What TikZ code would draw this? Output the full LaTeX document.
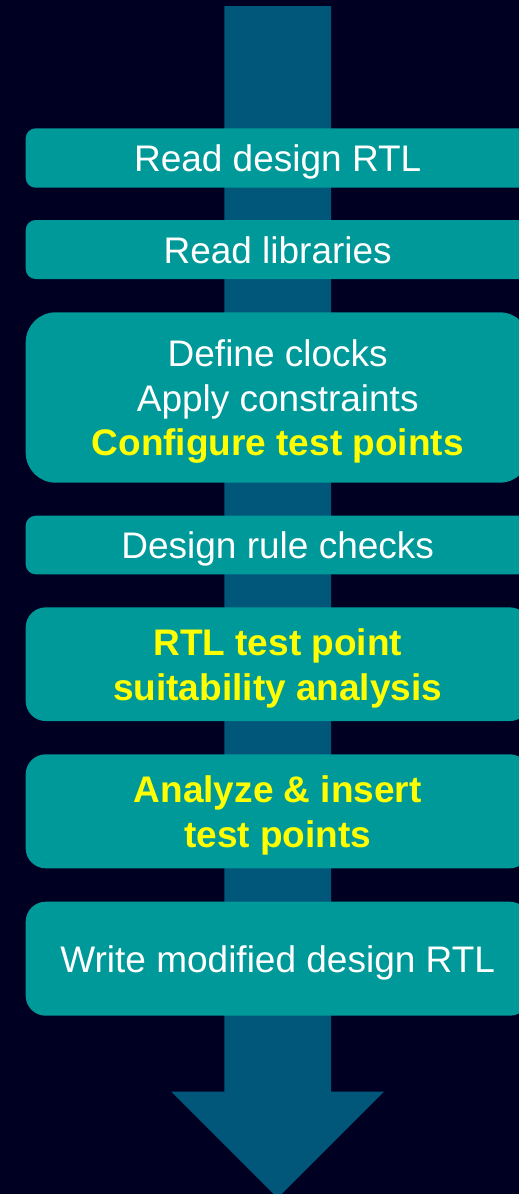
\documentclass[tikz,border=0pt]{standalone}
\usepackage{fontspec}
\setmainfont{Liberation Sans}
\usetikzlibrary{calc}
\definecolor{bgnavy}{HTML}{000022}
\definecolor{teal}{HTML}{009999}
\definecolor{shaft}{HTML}{00577A}
\definecolor{hiyellow}{HTML}{FFFF00}
\tikzset{
  stepbox/.style={fill=teal, draw=none, minimum width=504pt, inner sep=0pt},
  steptext/.style={anchor=base, inner sep=0pt, text=white, align=center,
    font=\fontsize{37}{44.4}\selectfont}
}
\newcommand{\hl}[1]{\textcolor{hiyellow}{\bfseries #1}}
\begin{document}
\begin{tikzpicture}[x=1pt,y=-1pt]
\useasboundingbox (0,0) rectangle (519,1194);
\clip (0,0) rectangle (519,1194);
\fill[bgnavy] (0,0) rectangle (519,1194);
% big arrow
\fill[shaft] (224.3,6) -- (331,6) -- (331,1091.7) -- (384,1091.7) -- (277.7,1198)
  -- (171.3,1091.7) -- (224.3,1091.7) -- cycle;
\node[stepbox, minimum height=59.4pt, rounded corners=10pt] (b1) at (277.7,158) {};
\node[stepbox, minimum height=59pt, rounded corners=10pt] (b2) at (277.7,249.5) {};
\node[stepbox, minimum height=170.4pt, rounded corners=30pt] (b3) at (277.7,397.5) {};
\node[stepbox, minimum height=58.6pt, rounded corners=10pt] (b4) at (277.7,545) {};
\node[stepbox, minimum height=113.7pt, rounded corners=20pt] (b5) at (277.7,664.2) {};
\node[stepbox, minimum height=114pt, rounded corners=20pt] (b6) at (277.7,811.3) {};
\node[stepbox, minimum height=114pt, rounded corners=20pt] (b7) at (277.7,958.7) {};
% texts (positioned by last baseline)
\node[steptext] (t1) at ($(b1.center)+(0,13.6)$) {Read design RTL};
\node[steptext] (t2) at ($(b2.center)+(0,13.6)$) {Read libraries};
\node[steptext] (t3) at ($(b3.center)+(0,58.0)$)
  {Define clocks\\Apply constraints\\\hl{Configure test points}};
\node[steptext] (t4) at ($(b4.center)+(0,13.6)$) {Design rule checks};
\node[steptext] (t5) at ($(b5.center)+(0,35.8)$) {\hl{RTL test point}\\\hl{suitability analysis}};
\node[steptext] (t6) at ($(b6.center)+(0,35.8)$) {\hl{Analyze \& insert}\\\hl{test points}};
\node[steptext] (t7) at ($(b7.center)+(0,13.6)$) {Write modified design RTL};
\end{tikzpicture}
\end{document}
